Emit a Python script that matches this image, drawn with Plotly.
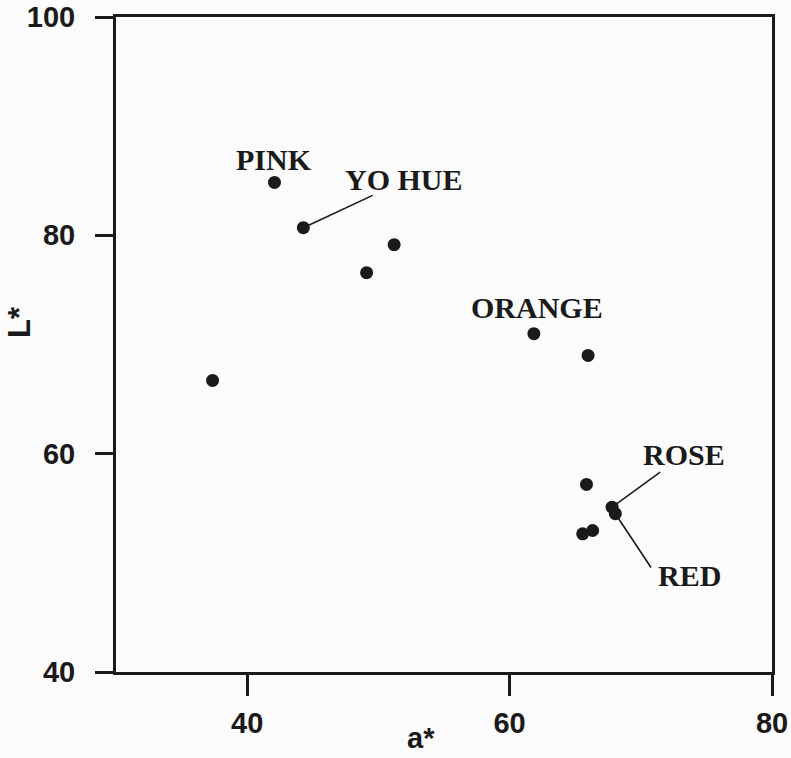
import plotly.graph_objects as go

# CIELAB coordinates of the samples (a* vs L*)
a_star = [42.08, 44.28, 51.20, 49.10, 37.36, 61.85, 65.98, 65.86, 67.81, 68.06, 65.57, 66.33]
l_star = [84.85, 80.70, 79.14, 76.58, 66.71, 70.99, 69.00, 57.18, 55.10, 54.50, 52.66, 52.96]

# Hue labels: text, label centre (a*, L*), leader-line end (None = no leader), sample index
label_text = ["PINK", "YO HUE", "ORANGE", "ROSE", "RED"]
label_a = [42.01, 51.98, 62.12, 73.26, 73.72]
label_l = [86.97, 85.13, 73.43, 59.93, 48.84]
leader_a = [None, 49.56, None, 71.48, 70.78]
leader_l = [None, 83.66, None, 58.31, 49.57]
label_point = [0, 1, 5, 8, 9]

x_ticks = [40, 60, 80]
y_ticks = [40, 60, 80, 100]

ink = "#1a1a1a"
sans = "Liberation Sans"

fig = go.Figure()

# leader lines from the labelled samples
for i, txt in enumerate(label_text):
    if leader_a[i] is None:
        continue
    p = label_point[i]
    fig.add_trace(go.Scatter(
        x=[a_star[p], leader_a[i]], y=[l_star[p], leader_l[i]],
        mode="lines", line=dict(color=ink, width=1.6),
        hoverinfo="skip", showlegend=False,
    ))

fig.add_trace(go.Scatter(
    x=a_star, y=l_star, mode="markers",
    marker=dict(size=13, color=ink, line=dict(width=0)),
    showlegend=False,
))

for i, txt in enumerate(label_text):
    fig.add_annotation(
        x=label_a[i], y=label_l[i], xref="x", yref="y", text=txt,
        showarrow=False, xanchor="center", yanchor="middle",
        font=dict(family="Liberation Serif", size=30, color=ink, weight="bold"),
    )

# axis titles
fig.add_annotation(
    x=(421 - 116) / 656, y=-(756 - 672) / 655, xref="paper", yref="paper", text="a*",
    showarrow=False, xanchor="center", yanchor="bottom",
    font=dict(family=sans, size=29, color=ink, weight="bold"),
)
fig.add_annotation(
    x=-0.148, y=1 - (322 - 17) / 655, xref="paper", yref="paper", text="L*",
    showarrow=False, textangle=-90, xanchor="center", yanchor="middle",
    font=dict(family=sans, size=31, color=ink, weight="bold"),
)

axis_common = dict(
    showgrid=False, zeroline=False, showline=True, mirror=True, automargin=False,
    linecolor=ink, linewidth=3, ticks="outside", tickwidth=3, tickcolor=ink,
    tickfont=dict(family=sans, size=29, color=ink, weight="bold"),
)

fig.update_xaxes(range=[30, 80], tickvals=x_ticks, ticklen=21,
                 ticklabelstandoff=2, **axis_common)
fig.update_yaxes(range=[40, 100], tickvals=y_ticks, ticklen=18,
                 ticklabelstandoff=14, **axis_common)

fig.update_layout(
    width=791, height=758,
    margin=dict(l=116, r=19, t=17, b=86),
    paper_bgcolor="#fbfbfb", plot_bgcolor="#fbfbfb",
)

fig.write_html("out.html")
